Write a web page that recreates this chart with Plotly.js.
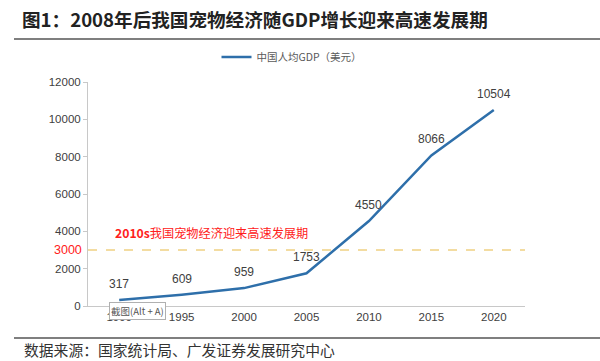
<!DOCTYPE html>
<html>
<head>
<meta charset="utf-8">
<script src="https://cdn.plot.ly/plotly-3.0.1.min.js"></script>
<style>html,body{margin:0;padding:0;background:#fff;}#chart{width:600px;height:361px;}</style>
</head>
<body>
<div id="chart"></div>
<script>
const years = [1990, 1995, 2000, 2005, 2010, 2015, 2020];
const gdpPerCapita = [317, 609, 959, 1753, 4550, 8066, 10504];
const yTicks = [0, 2000, 4000, 6000, 8000, 10000, 12000];
const thresholdValue = 3000;
const seriesName = '中国人均GDP（美元）';
const chartTitle = '图1：2008年后我国宠物经济随GDP增长迎来高速发展期';
const periodNote = '<b>2010s</b>我国宠物经济迎来高速发展期';
const sourceNote = '数据来源：国家统计局、广发证券发展研究中心';

const L = 88, R = 525, T = 82, B = 306, W = 600, H = 361;
const px = x => (x - L) / (R - L);
const py = y => (B - y) / (B - T);

const cjk = '"Noto Sans CJK SC", "Liberation Sans", sans-serif';
const latin = '"Liberation Sans", Arial, sans-serif';

const trace = {
  x: years, y: gdpPerCapita, type: 'scatter', mode: 'lines', name: seriesName,
  line: {color: '#2E6FAA', width: 2.5}, hoverinfo: 'none'
};

const annotations = years.map((yr, i) => ({
  x: yr, y: gdpPerCapita[i], xref: 'x', yref: 'y', text: String(gdpPerCapita[i]),
  showarrow: false, yshift: 16, yanchor: 'middle', xanchor: 'center',
  font: {family: latin, size: 12, color: '#404040'}
}));
annotations.push({
  x: 0, y: thresholdValue, xref: 'paper', yref: 'y', text: String(thresholdValue),
  showarrow: false, xanchor: 'right', xshift: -4, yanchor: 'middle',
  font: {family: latin, size: 12.5, color: '#FF2020'}
});
annotations.push({
  x: px(113), y: py(233), xref: 'paper', yref: 'paper', text: periodNote,
  showarrow: false, xanchor: 'left', yanchor: 'middle',
  font: {family: cjk, size: 12.2, color: '#FF2020'}
});
annotations.push({
  x: px(22), y: py(349), xref: 'paper', yref: 'paper', text: sourceNote,
  showarrow: false, xanchor: 'left', yanchor: 'middle',
  font: {family: cjk, size: 14.8, color: '#333333'}
});
annotations.push({
  x: px(109), y: py(311), xref: 'paper', yref: 'paper', text: '截图(Alt + A)',
  showarrow: false, xanchor: 'left', yanchor: 'middle',
  bgcolor: '#ffffff', bordercolor: '#b0b0b0', borderwidth: 1, borderpad: 1,
  font: {family: cjk, size: 9.5, color: '#555555'}
});

const layout = {
  width: W, height: H,
  margin: {l: L, r: W - R, t: T, b: H - B, pad: 0},
  paper_bgcolor: '#ffffff', plot_bgcolor: '#ffffff',
  title: {
    text: '<b>' + chartTitle + '</b>', xref: 'container', yref: 'container',
    x: 22 / W, xanchor: 'left', y: 1 - 20 / H, yanchor: 'middle',
    font: {family: cjk, size: 18.6, color: '#222222'}
  },
  showlegend: true,
  legend: {
    orientation: 'h', x: px(292), xanchor: 'center', y: py(57), yanchor: 'middle',
    font: {family: cjk, size: 10.5, color: '#595959'}, itemwidth: 30, bgcolor: 'rgba(0,0,0,0)'
  },
  xaxis: {
    range: [1987.5, 2022.5], tickvals: years, ticktext: years.map(String),
    showline: true, linecolor: '#c8c8c8', linewidth: 1, ticks: '', showgrid: false,
    zeroline: false, tickfont: {family: latin, size: 11.5, color: '#404040'}, fixedrange: true
  },
  yaxis: {
    range: [0, 12000], tickvals: yTicks, ticktext: yTicks.map(String),
    showline: true, linecolor: '#c8c8c8', linewidth: 1, ticks: 'outside', ticklen: 4,
    tickcolor: '#c8c8c8', showgrid: false, zeroline: false,
    tickfont: {family: latin, size: 11.5, color: '#404040'}, fixedrange: true
  },
  shapes: [
    {type: 'line', xref: 'paper', yref: 'y', x0: 0, x1: 1, y0: thresholdValue, y1: thresholdValue,
     line: {color: '#E8BA45', width: 1.2, dash: 'dash'}},
    {type: 'line', xref: 'paper', yref: 'paper', x0: px(14), x1: px(600), y0: py(39), y1: py(39),
     line: {color: '#555555', width: 1.5}},
    {type: 'line', xref: 'paper', yref: 'paper', x0: px(14), x1: px(600), y0: py(338), y1: py(338),
     line: {color: '#555555', width: 1.5}}
  ],
  annotations: annotations
};

Plotly.newPlot('chart', [trace], layout, {displayModeBar: false, staticPlot: true});
</script>
</body>
</html>
